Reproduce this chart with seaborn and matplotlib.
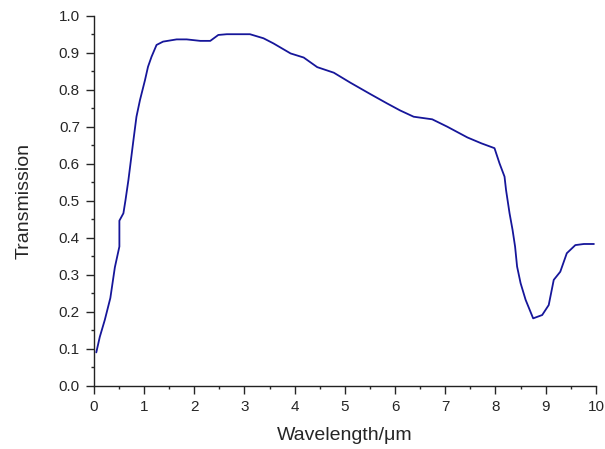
import pandas as pd
import matplotlib.pyplot as plt
import seaborn as sns
from matplotlib.ticker import MultipleLocator

# valores
wavelength = [0.05, 0.12, 0.22, 0.33, 0.42, 0.51, 0.51, 0.59, 0.63, 0.69, 0.79, 0.85,
              0.92, 1.02, 1.08, 1.15, 1.25, 1.38, 1.65, 1.85, 2.12, 2.32, 2.48, 2.65,
              3.11, 3.38, 3.58, 3.92, 4.18, 4.45, 4.78, 5.11, 5.51, 5.84, 6.1, 6.37,
              6.74, 7.04, 7.44, 7.72, 7.98, 8.08, 8.18, 8.21, 8.28, 8.34, 8.39, 8.43,
              8.5, 8.6, 8.75, 8.93, 9.06, 9.16, 9.29, 9.42, 9.59, 9.76, 9.96]
transmission = [0.09, 0.132, 0.178, 0.237, 0.32, 0.376, 0.446, 0.466, 0.5, 0.556, 0.664, 0.727,
                0.772, 0.826, 0.862, 0.889, 0.921, 0.93, 0.936, 0.936, 0.932, 0.932, 0.948, 0.95,
                0.95, 0.939, 0.925, 0.898, 0.887, 0.861, 0.846, 0.819, 0.788, 0.763, 0.744, 0.727,
                0.72, 0.7, 0.671, 0.655, 0.642, 0.601, 0.565, 0.529, 0.466, 0.421, 0.376, 0.322,
                0.277, 0.232, 0.182, 0.191, 0.218, 0.286, 0.308, 0.358, 0.38, 0.383, 0.383]

df = pd.DataFrame({'wl': wavelength, 'T': transmission})

sns.set_style('ticks')
plt.rcParams['font.family'] = ['Liberation Sans', 'DejaVu Sans']

fig = plt.figure(figsize=(6.05, 4.49), dpi=100)
ax = fig.add_axes([0.155, 0.141, 0.83, 0.824])
sns.lineplot(data=df, x='wl', y='T', sort=False, estimator=None,
             color='#16169a', linewidth=1.3, ax=ax)

ax.set_xlim(0, 10)
ax.set_ylim(0, 1.0)
ax.xaxis.set_major_locator(MultipleLocator(1))
ax.xaxis.set_minor_locator(MultipleLocator(0.5))
ax.yaxis.set_major_locator(MultipleLocator(0.1))
ax.yaxis.set_minor_locator(MultipleLocator(0.05))
ax.set_yticks([i / 10 for i in range(11)])
ax.set_yticklabels([f'{i / 10:.1f}' for i in range(11)])
ax.tick_params(which='major', direction='out', length=5.5, width=1.0, labelsize=11, pad=4.5)
ax.tick_params(which='minor', direction='out', length=2.5, width=1.0)
ax.set_xlabel('Wavelength/μm', fontsize=14, labelpad=10)
ax.set_ylabel('Transmission', fontsize=14, labelpad=19)
sns.despine(ax=ax)
for s in ['left', 'bottom']:
    ax.spines[s].set_linewidth(1.0)
    ax.spines[s].set_color('#222222')

fig.savefig('out.png', dpi=100)
